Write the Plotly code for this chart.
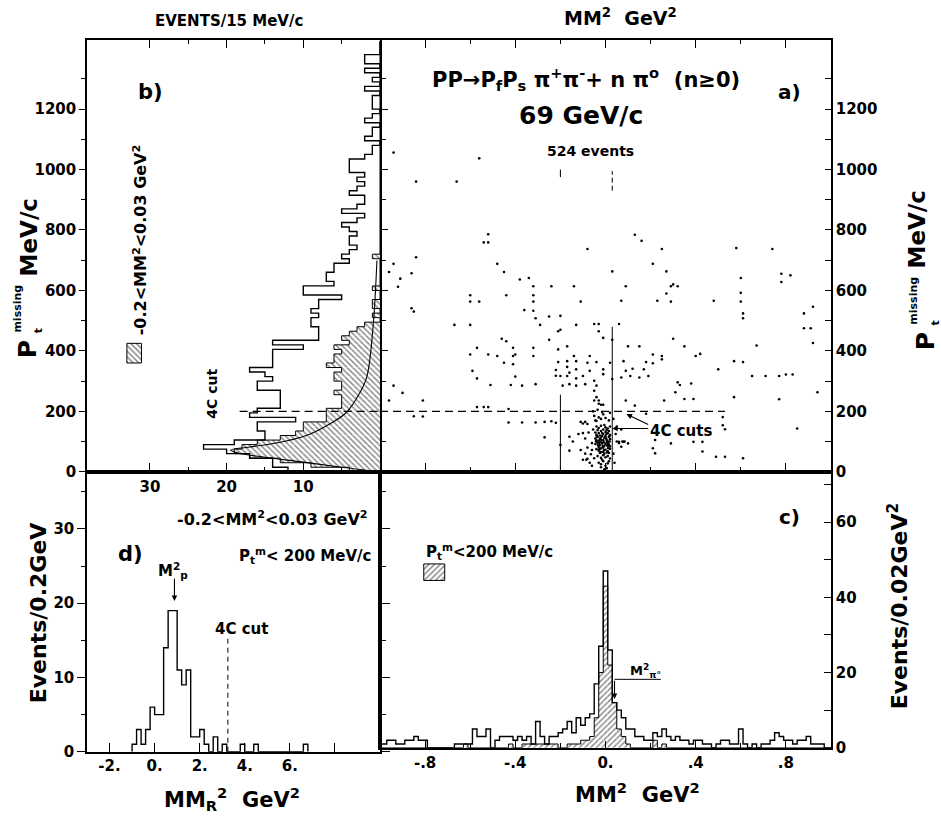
import numpy as np
import plotly.graph_objects as go

W, H = 941, 826
FONT = "DejaVu Sans"
INK = "black"

# ---------------- (b) missing transverse momentum, 15 MeV/c bins from 0 ----------------
PT_BIN = 15.0
pt_counts_all = [
    12, 14, 14, 17, 20, 23, 19, 15, 15, 16,
    16, 11, 17, 16, 13, 13, 13, 13, 16, 16,
    14, 15, 17, 14, 14, 14, 14, 10, 14, 8,
    8, 8, 9, 9, 8, 9, 8, 8, 5, 10,
    10, 6, 7, 7, 6, 6, 4, 5, 4, 3,
    4, 4, 3, 4, 5, 3, 2, 5, 3, 2,
    2, 4, 3, 2, 3, 2, 4, 4, 4, 2,
    1, 1, 0, 2, 1, 1, 0, 2, 1, 0,
    1, 1, 1, 0, 2, 0, 1, 0, 2, 0,
    2, 2, 0, 0, 0,
]
# events with -0.2 < MM^2 < 0.03 GeV^2
pt_counts_sel = [
    4, 9, 13, 17, 19, 18, 16, 13, 11, 10,
    10, 7, 7, 7, 5, 5, 5, 6, 5, 5,
    6, 6, 5, 7, 6, 6, 5, 6, 4, 5,
    4, 3, 2, 0, 1, 0, 1, 1, 0, 0,
    1, 0, 0, 0, 0, 0, 0, 1, 0, 0,
] + [0] * 45
# smooth curve drawn over the selected distribution
fit_counts = [0, 5, 10, 15, 18.5, 19.5, 17, 13.5, 9.6, 6.5, 4.35, 2.6, 1.7, 0.9, 0.4]
fit_pt = [0, 15, 32, 48, 62, 72, 82, 95, 120, 159, 197, 263, 316, 481, 699]

# ---------------- (a) scatter: MM^2 (GeV^2) vs Pt missing (MeV/c) ----------------
scatter_events = [
    (-0.94, 1056), (-0.56, 1037), (-0.84, 960), (-0.66, 960), (-0.52, 786), (-0.54, 759), (-0.52, 759),
    (-0.08, 737), (0.13, 784), (0.16, 764), (0.25, 737), (0.58, 740), (-0.84, 710), (-0.94, 688), (-0.96, 661),
    (-0.91, 639), (-0.92, 612), (-0.86, 657), (-0.48, 688), (-0.45, 661), (0.03, 663), (0.21, 688), (0.27, 663),
    (-0.38, 636), (-0.34, 641), (-0.32, 614), (-0.32, 584), (-0.32, 563), (-0.24, 614), (-0.14, 614), (0.09, 614),
    (0.30, 620), (0.29, 614), (0.32, 614), (0.27, 590), (0.29, 563), (0.23, 566), (0.60, 641), (0.60, 592), (0.60, 563),
    (0.61, 524), (0.61, 508), (0.48, 566), (0.07, 566),
    (-0.11, 563), (-0.44, 584), (-0.60, 584), (-0.60, 563), (-0.56, 563), (-0.86, 541), (-0.85, 530), (-0.36, 535),
    (-0.32, 533), (-0.25, 514), (-0.20, 516), (-0.31, 508), (-0.67, 486), (-0.60, 486), (-0.29, 486), (-0.20, 470),
    (-0.21, 465), (-0.13, 486), (-0.05, 489), (-0.03, 489), (0.06, 489), (-0.03, 465), (-0.01, 443), (-0.46, 440),
    (-0.44, 432), (-0.25, 437), (-0.17, 415), (0.03, 437), (0.15, 415), (0.30, 440), (0.35, 415), (0.67, 418),
    (-0.57, 410), (-0.41, 410), (-0.40, 388), (-0.32, 410),
    (-0.21, 405), (-0.60, 388), (-0.52, 388), (-0.48, 383), (-0.41, 383), (-0.32, 383), (-0.14, 383), (-0.07, 383),
    (0.10, 415), (0.21, 388), (0.25, 383), (0.40, 383), (0.42, 390), (0.57, 366), (0.61, 363),
    (-0.45, 361), (-0.41, 356), (-0.21, 363), (-0.17, 366), (-0.17, 347),
    (-0.13, 366), (-0.13, 339), (-0.08, 361), (-0.07, 334), (-0.04, 363), (-0.01, 339), (0.02, 361), (0.08, 366),
    (0.09, 334), (0.12, 341), (0.17, 339), (0.18, 363), (0.21, 359), (0.25, 372), (0.50, 339), (0.65, 317),
    (-0.59, 334), (-0.57, 309), (-0.40, 315), (-0.22, 337), (-0.22, 318), (-0.20, 317),
    (-0.17, 317), (-0.16, 328), (-0.13, 309), (-0.10, 317), (-0.05, 301), (-0.04, 285), (-0.01, 323), (0.03, 307),
    (0.07, 312), (0.11, 317), (0.15, 312), (0.19, 317), (0.32, 296), (0.33, 287), (0.31, 263), (0.38, 292),
    (-0.51, 287), (-0.42, 287), (-0.37, 285), (-0.31, 290), (-0.19, 285), (-0.16, 290),
    (-0.13, 285), (-0.09, 290), (-0.05, 268), (-0.04, 247), (-0.03, 225), (-0.02, 222), (-0.94, 285), (-0.90, 261),
    (-0.96, 236), (-0.81, 236), (-0.81, 183), (-0.85, 184), (-0.57, 214), (-0.54, 214), (-0.52, 214), (-0.43, 208),
    (-0.37, 163), (-0.31, 163), (-0.27, 165), (-0.43, 163), (-0.27, 114), (-0.24, 167), (-0.22, 162), (-0.20, 89),
    (-0.16, 116), (-0.09, 165), (-0.11, 72), (-0.10, 40), (-0.08, 43), (-0.06, 72), (-0.05, 45), (-0.01, 222),
    (-0.05, 236), (-0.03, 236), (0.06, 99), (0.08, 99), (0.10, 94), (0.07, 83), (0.09, 236), (0.13, 219), (0.18, 192),
    (0.22, 105), (0.21, 78), (0.22, 61), (0.26, 236), (0.35, 241), (0.39, 241), (0.39, 99), (0.43, 99), (0.29, 94),
    (0.43, 67), (0.49, 50), (0.53, 50), (0.61, 45), (0.52, 181), (0.52, 154), (0.53, 141), (0.57, 247),
    (0.74, 737), (0.78, 655), (0.78, 628), (0.82, 650), (0.88, 524), (0.92, 546), (0.88, 475), (0.91, 475),
    (0.92, 426), (0.71, 317), (0.77, 317), (0.80, 322), (0.83, 322), (0.77, 240), (0.94, 263), (0.85, 143),
    # dense region around MM^2 = 0
    (-0.04, 150), (-0.03, 145), (-0.02, 152), (-0.01, 140), (0.00, 147), (0.01, 143), (0.02, 150), (-0.035, 138),
    (-0.005, 155), (-0.045, 130), (-0.03, 128), (-0.02, 135), (-0.01, 125), (0.0, 132), (0.01, 128), (0.02, 122),
    (-0.04, 122), (-0.025, 120), (0.005, 138), (0.015, 135), (-0.045, 110), (-0.035, 115), (-0.025, 108),
    (-0.015, 118), (-0.005, 112), (0.005, 105), (0.015, 115), (0.02, 108), (-0.03, 102), (-0.01, 104), (0.0, 118),
    (-0.04, 104), (0.01, 100), (-0.045, 92), (-0.035, 96), (-0.025, 88), (-0.015, 94), (-0.005, 86), (0.005, 97),
    (0.015, 90), (0.02, 84), (-0.03, 82), (-0.01, 80), (0.0, 92), (-0.02, 98), (0.01, 85), (-0.04, 75), (-0.03, 70),
    (-0.02, 78), (-0.01, 66), (0.0, 73), (0.01, 68), (0.02, 76), (-0.025, 62), (-0.005, 60), (0.015, 62),
    (-0.035, 52), (-0.02, 46), (-0.01, 55), (0.0, 48), (0.01, 52), (0.02, 44), (-0.015, 40), (-0.03, 30),
    (-0.02, 25), (-0.01, 35), (0.0, 20), (0.01, 28), (0.005, 12), (-0.005, 8), (0.015, 35), (-0.02, 15), (0.0, 3),
    (-0.05, 185), (-0.03, 180), (-0.02, 175), (-0.01, 190), (0.0, 178), (0.015, 170), (-0.04, 168), (-0.055, 200),
    (-0.035, 205), (0.02, 195), (-0.015, 198), (-0.045, 170),
    (-0.042, 100), (-0.028, 95), (-0.018, 105), (-0.008, 98), (0.003, 110), (0.012, 94), (0.018, 100),
    (-0.033, 88), (-0.022, 112), (-0.012, 85), (0.008, 88), (0.017, 118), (-0.038, 118), (-0.015, 128),
    (0.004, 125), (-0.027, 75), (-0.007, 72), (0.012, 78), (-0.02, 65), (0.006, 64),
    (-0.11, 165), (-0.10, 160), (-0.08, 158), (-0.12, 125), (-0.10, 128), (-0.145, 100), (-0.16, 70), (-0.09, 110),
    (-0.08, 80), (-0.085, 40), (-0.07, 30), (-0.065, 58), (-0.06, 95), (-0.075, 130), (-0.055, 140), (-0.06, 20),
    (-0.09, 60), (0.05, 100), (0.06, 95), (0.075, 100), (0.085, 100), (0.05, 150), (0.07, 140), (0.045, 125),
    (0.035, 60), (0.04, 30), (0.035, 175),
]
a_mm2 = [p[0] for p in scatter_events]
a_pt = [p[1] for p in scatter_events]

# ---------------- (c) MM^2, 0.02 GeV^2 bins centred on -1.00 ... 1.00 ----------------
MM2_BIN = 0.02
MM2_FIRST = -1.0
mm2_counts_all = [
    1, 1, 2, 2, 1, 1, 2, 2, 3, 2, 2,
    0, 0, 0, 0, 0, 0, 1, 1, 1, 1,
    5, 3, 3, 5, 0, 2, 3, 3, 3, 2,
    3, 2, 3, 1, 7, 3, 1, 3, 3, 4,
    5, 7, 4, 8, 6, 8, 9, 17, 27, 47,
    26, 12, 10, 8, 5, 5, 3, 3, 2, 2,
    4, 3, 5, 3, 2, 3, 2, 2, 1, 2,
    2, 1, 1, 0, 1, 2, 2, 1, 1, 5,
    1, 0, 1, 0, 1, 1, 2, 4, 3, 2,
    2, 1, 2, 2, 3, 1, 1, 1, 0, 0,
]
# events with Pt(missing) < 200 MeV/c
mm2_counts_sel = [
    0, 0, 0, 0, 0, 0, 0, 0, 0, 0, 0,
    0, 0, 0, 0, 0, 0, 0, 0, 1, 0,
    0, 0, 0, 0, 0, 0, 0, 0, 1, 0,
    0, 1, 1, 1, 1, 1, 1, 1, 1, 0,
    0, 1, 1, 1, 2, 2, 3, 8, 20, 43,
    22, 12, 5, 3, 1, 0, 0, 0, 0, 0,
    2, 0, 1, 0, 0, 0, 0, 0, 0, 0,
    0, 0, 0, 0, 0, 0, 0, 0, 0, 0,
    0, 0, 0, 0, 0, 0, 0, 0, 0, 0,
    0, 0, 0, 0, 0, 0, 0, 0, 0, 0,
]

# ---------------- (d) recoil missing mass squared, 0.2 GeV^2 bins from -1.0 ----------------
MMR2_BIN = 0.2
MMR2_START = -1.0
mmr2_counts = [
    1, 3, 1, 3, 6, 5, 5, 14, 19, 19,
    11, 9, 11, 2, 2, 3, 1, 0, 2, 0,
    1, 0, 0, 0, 1, 0, 0, 1, 0, 0,
    0, 0, 0, 0, 0, 0, 0, 0, 1,
]

# selection cuts and reference values
CUT_MM2_LO, CUT_MM2_HI = -0.2, 0.03
CUT_PT = 200
CUT_MMR2 = 3.25
M_P2 = 0.88
MPI0_MARK = 0.04


def steps(edges, counts):
    """Outline of a histogram as a polyline (edge, count) pairs."""
    e = np.asarray(edges, float)
    c = np.asarray(counts, float)
    xs = np.concatenate([[e[0]], np.repeat(e, 2)[1:-1], [e[-1]]])
    ys = np.concatenate([[0.0], np.repeat(c, 2), [0.0]])
    return xs, ys


pt_edges = np.arange(len(pt_counts_all) + 1) * PT_BIN
pt_centres = pt_edges[:-1] + PT_BIN / 2
mm2_centres = MM2_FIRST + np.arange(len(mm2_counts_all)) * MM2_BIN
mm2_edges = np.append(mm2_centres - MM2_BIN / 2, mm2_centres[-1] + MM2_BIN / 2)
mmr2_edges = MMR2_START + np.arange(len(mmr2_counts) + 1) * MMR2_BIN

hatch_b = dict(shape="\\", fgcolor=INK, bgcolor="white", size=4, solidity=0.35)
hatch_c = dict(shape="/", fgcolor=INK, bgcolor="white", size=4, solidity=0.35)

fig = go.Figure()

# (b) selected events, hatched, then both outlines and the curve
fig.add_trace(go.Bar(x=pt_counts_sel, y=pt_centres, orientation="h", width=PT_BIN,
                     marker=dict(color="white", line=dict(width=0), pattern=hatch_b),
                     xaxis="x", yaxis="y"))
sy, sx = steps(pt_edges, pt_counts_sel)
fig.add_trace(go.Scatter(x=sx, y=sy, mode="lines", line=dict(color=INK, width=1),
                         xaxis="x", yaxis="y"))
ay_, ax_ = steps(pt_edges, pt_counts_all)
fig.add_trace(go.Scatter(x=ax_, y=ay_, mode="lines", line=dict(color=INK, width=1.4),
                         xaxis="x", yaxis="y"))
fig.add_trace(go.Scatter(x=fit_counts, y=fit_pt, mode="lines",
                         line=dict(color=INK, width=1.1, shape="spline"),
                         xaxis="x", yaxis="y"))

# (a) scatter
fig.add_trace(go.Scatter(x=a_mm2, y=a_pt, mode="markers",
                         marker=dict(size=2.6, color=INK), xaxis="x2", yaxis="y2"))

# (c) MM^2 histograms
fig.add_trace(go.Bar(x=mm2_centres, y=mm2_counts_sel, width=MM2_BIN,
                     marker=dict(color="white", line=dict(width=0), pattern=hatch_c),
                     xaxis="x4", yaxis="y4"))
cx, cy = steps(mm2_edges, mm2_counts_sel)
fig.add_trace(go.Scatter(x=cx, y=cy, mode="lines", line=dict(color=INK, width=1),
                         xaxis="x4", yaxis="y4"))
cx, cy = steps(mm2_edges, mm2_counts_all)
fig.add_trace(go.Scatter(x=cx, y=cy, mode="lines", line=dict(color=INK, width=1.4),
                         xaxis="x4", yaxis="y4"))

# (d) MM_R^2 histogram
dx, dy = steps(mmr2_edges, mmr2_counts)
fig.add_trace(go.Scatter(x=dx, y=dy, mode="lines", line=dict(color=INK, width=1.4),
                         xaxis="x3", yaxis="y3"))

# hatched legend keys
fig.add_trace(go.Scatter(x=[31.1, 33.0, 33.0, 31.1, 31.1], y=[360, 360, 425, 425, 360],
                         mode="lines", fill="toself", fillcolor="white", fillpattern=hatch_b,
                         line=dict(color=INK, width=1), xaxis="x", yaxis="y"))
fig.add_trace(go.Scatter(x=[-0.806, -0.713, -0.713, -0.806, -0.806], y=[44.5, 44.5, 48.9, 48.9, 44.5],
                         mode="lines", fill="toself", fillcolor="white", fillpattern=hatch_c,
                         line=dict(color=INK, width=1), xaxis="x4", yaxis="y4"))


def dom_x(x0, x1):
    return [x0 / W, x1 / W]


def dom_y(top, bottom):
    return [1 - bottom / H, 1 - top / H]


tickfont = dict(family=FONT, size=15, color=INK, weight="bold")
common = dict(showgrid=False, zeroline=False, showline=True, linecolor=INK, linewidth=1.5,
              tickcolor=INK, tickwidth=1.3, tickfont=tickfont, fixedrange=True)

X_L, X_M, X_R = 87, 380, 831
Y_T, Y_M, Y_BC, Y_BD = 40, 477, 756, 760

fig.update_layout(
    width=W, height=H, margin=dict(l=0, r=0, t=0, b=0),
    paper_bgcolor="white", plot_bgcolor="rgba(0,0,0,0)", showlegend=False,
    barmode="overlay",
    xaxis=dict(domain=dom_x(X_L, X_M), range=[38.2, 0], anchor="y", ticks="inside", mirror="ticks",
               tickvals=[10, 20, 30], ticklen=9,
               minor=dict(tickvals=[5, 15, 25], ticklen=5, ticks="inside", tickcolor=INK), **common),
    yaxis=dict(domain=dom_y(Y_T, Y_M), range=[0, 1430], anchor="x", ticks="outside", mirror="ticks",
               tickvals=list(range(0, 1201, 200)), ticklen=6,
               minor=dict(tickvals=list(range(100, 1301, 200)), ticklen=4, ticks="outside", tickcolor=INK),
               **common),
    xaxis2=dict(domain=dom_x(X_M, X_R), range=[-1, 1], anchor="y2", ticks="inside", mirror="ticks",
                tickvals=[-0.8, -0.4, 0, 0.4, 0.8], ticklen=9, showticklabels=False,
                minor=dict(tickvals=[-0.6, -0.2, 0.2, 0.6], ticklen=5, ticks="inside", tickcolor=INK),
                **common),
    yaxis2=dict(domain=dom_y(Y_T, Y_M), range=[0, 1430], anchor="x2", side="right", ticks="inside",
                tickvals=list(range(0, 1201, 200)), ticklen=6,
                minor=dict(tickvals=list(range(100, 1301, 200)), ticklen=6, ticks="inside", tickcolor=INK),
                **common),
    xaxis3=dict(domain=dom_x(X_L, X_M), range=[-3, 10], anchor="y3", ticks="inside", mirror=True,
                tickvals=[-2, 0, 2, 4, 6, 8], ticktext=["-2.", "0.", "2.", "4.", "6.", ""], ticklen=9,
                **common),
    yaxis3=dict(domain=dom_y(Y_M, Y_BD), range=[0, 37.7], anchor="x3", ticks="outside", mirror="ticks",
                tickvals=[0, 10, 20, 30], ticklen=8,
                minor=dict(tickvals=[5, 15, 25, 35], ticklen=4, ticks="outside", tickcolor=INK), **common),
    xaxis4=dict(domain=dom_x(X_M, X_R), range=[-1, 1], anchor="y4", ticks="inside", mirror=True,
                tickvals=[-0.8, -0.4, 0, 0.4, 0.8], ticktext=["-.8", "-.4", "0.", ".4", ".8"], ticklen=7,
                minor=dict(tickvals=[-0.6, -0.2, 0.2, 0.6], ticklen=5, ticks="inside", tickcolor=INK),
                **common),
    yaxis4=dict(domain=dom_y(Y_M, Y_BC), range=[0, 73.4], anchor="x4", side="right", ticks="inside",
                mirror=True, tickvals=[0, 20, 40, 60], ticklen=7,
                minor=dict(tickvals=[10, 30, 50, 70], ticklen=7, ticks="inside", tickcolor=INK), **common),
)

# cut lines
dash = "8px,5px"
shapes = [
    dict(type="line", xref="x", yref="y", x0=18.3, x1=0, y0=CUT_PT, y1=CUT_PT,
         line=dict(color=INK, width=1.2, dash=dash)),
    dict(type="line", xref="x2", yref="y2", x0=-1, x1=0.53, y0=CUT_PT, y1=CUT_PT,
         line=dict(color=INK, width=1.2, dash=dash)),
    dict(type="line", xref="x2", yref="y2", x0=CUT_MM2_LO, x1=CUT_MM2_LO, y0=0, y1=255,
         line=dict(color=INK, width=1)),
    dict(type="line", xref="x2", yref="y2", x0=CUT_MM2_HI, x1=CUT_MM2_HI, y0=0, y1=480,
         line=dict(color=INK, width=1)),
    dict(type="line", xref="x2", yref="y2", x0=CUT_MM2_LO, x1=CUT_MM2_LO, y0=975, y1=1000,
         line=dict(color=INK, width=1)),
    dict(type="line", xref="x2", yref="y2", x0=CUT_MM2_HI, x1=CUT_MM2_HI, y0=930, y1=995,
         line=dict(color=INK, width=1, dash="5px,3px")),
    dict(type="line", xref="x3", yref="y3", x0=CUT_MMR2, x1=CUT_MMR2, y0=0, y1=15.7,
         line=dict(color=INK, width=1, dash="5px,4px")),
    dict(type="line", xref="x4", yref="y4", x0=MPI0_MARK, x1=0.245, y0=18.2, y1=18.2,
         line=dict(color=INK, width=1)),
]
fig.update_layout(shapes=shapes)

ann = []


def text(t, x, y, size, angle=0, ref=("paper", "paper"), **kw):
    if ref == ("paper", "paper"):
        x, y = x / W, 1 - y / H
    ann.append(dict(text=t, x=x, y=y, xref=ref[0], yref=ref[1], showarrow=False,
                    textangle=angle, xanchor=kw.get("xanchor", "center"), yanchor="middle",
                    font=dict(family=FONT, size=size, color=INK, weight="bold")))


def arrow(x, y, ax, ay, xr, yr):
    ann.append(dict(text="", x=x, y=y, ax=ax, ay=ay, xref=xr, yref=yr, axref=xr, ayref=yr,
                    showarrow=True, arrowhead=2, arrowsize=1, arrowwidth=1.1, arrowcolor=INK))


text("EVENTS/15 MeV/c", 229, 21, 15)
text("MM<sup>2</sup>  GeV<sup>2</sup>", 620, 17, 19)
text("b)", 150, 93, 21)
text("a)", 789, 93, 20)
text("PP→P<sub>f</sub>P<sub>s</sub> π<sup>+</sup>π<sup>-</sup>+ n π<sup>o</sup>  (n≥0)", 586, 80, 21)
text("69 GeV/c", 581, 117, 25)
text("524 events", 590, 153, 14)
text("4C cuts", 681, 436, 15)
text("4C cut", 212, 398, 14, angle=-90)
text("-0.2<MM<sup>2</sup><0.03 GeV<sup>2</sup>", 140, 243, 16, angle=-90)

text("-0.2<MM<sup>2</sup><0.03 GeV<sup>2</sup>", 272, 524, 16)
text("P<sub>t</sub><sup>m</sup>< 200 MeV/c", 305, 562, 15)
text("d)", 130, 560, 21)
text("M<sup>2</sup><sub>p</sub>", 173, 577, 15)
text("4C cut", 241, 636, 15)
text("Events/0.2GeV", 38, 620, 22, angle=-90)
text("MM<sub>R</sub><sup>2</sup>  GeV<sup>2</sup>", 232, 808, 21)

text("c)", 789, 523, 20)
text("P<sub>t</sub><sup>m</sup><200 MeV/c", 489, 558, 15)
text("M<sup>2</sup><sub>π°</sub>", 645, 678, 13)
text("Events/0.02GeV<sup>2</sup>", 898, 613, 22, angle=-90)
text("MM<sup>2</sup>  GeV<sup>2</sup>", 637, 802, 21)

# vertical Pt titles, left and right
for xp, xm, xt, xu, yp, ym, yt, yu in [(27, 18, 38, 29, 353, 312, 335, 240),
                                       (925, 914, 935, 917, 345, 304, 327, 232)]:
    text("P", xp, yp, 25, angle=-90)
    text("missing", xm, ym, 11, angle=-90)
    text("t", xt, yt, 11, angle=-90)
    text("MeV/c", xu, yu, 23, angle=-90)

arrow(CUT_MM2_HI, 143, 0.196, 143, "x2", "y2")
arrow(0.093, 191, 0.196, 154, "x2", "y2")
arrow(M_P2, 20.3, M_P2, 23.5, "x3", "y3")
arrow(MPI0_MARK, 13, MPI0_MARK, 18.2, "x4", "y4")

fig.update_layout(annotations=ann)
fig.write_html("out.html")
